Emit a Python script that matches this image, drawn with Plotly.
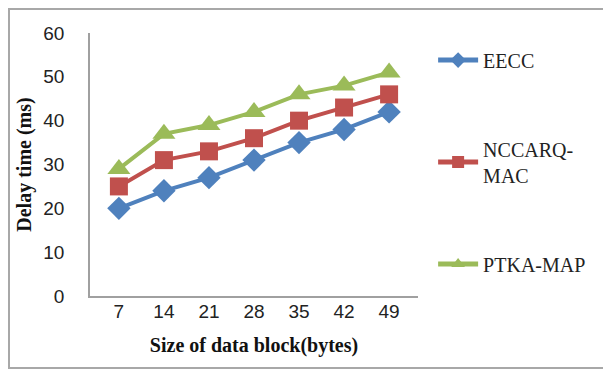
import plotly.graph_objects as go

categories = ["7", "14", "21", "28", "35", "42", "49"]
eecc = [20, 24, 27, 31, 35, 38, 42]
nccarq = [25, 31, 33, 36, 40, 43, 46]
ptka = [29, 37, 39, 42, 46, 48, 51]
series_names = ["EECC", "NCCARQ-<br>MAC", "PTKA-MAP"]
y_ticks = [0, 10, 20, 30, 40, 50, 60]

fig = go.Figure()
specs = [
    (eecc, series_names[0], "#4F81BD", "diamond", 18),
    (nccarq, series_names[1], "#C0504D", "square", 18),
    (ptka, series_names[2], "#9BBB59", "triangle-up", 20),
]
for i, (vals, name, color, sym, size) in enumerate(specs):
    fig.add_trace(go.Scatter(
        x=categories, y=vals, name=name, mode="lines+markers",
        line=dict(color=color, width=4),
        marker=dict(symbol=sym, size=size, color=color),
        legendgroup="g%d" % i,
    ))

# page body adds an 8px offset; figure is sized/positioned to compensate
W, H = 603, 362
L, T, R, B = 82, 25, 410, 288
fig.update_layout(
    width=W, height=H,
    margin=dict(l=L, r=W - R, t=T, b=H - B, autoexpand=False),
    paper_bgcolor="white", plot_bgcolor="white",
    showlegend=True,
    legend=dict(
        xref="container", yref="container",
        x=0.705, y=0.91, xanchor="left", yanchor="top",
        font=dict(family="Liberation Serif", size=20, color="#222"),
        tracegroupgap=60, itemwidth=40, maxheight=600,
        itemsizing="constant",
        bgcolor="rgba(0,0,0,0)",
    ),
    xaxis=dict(
        type="category", showline=True, linecolor="#A0A0A0", linewidth=1.5,
        showgrid=False, ticks="", ticklabelstandoff=-3,
        tickfont=dict(family="Liberation Sans", size=19, color="#222"),
        title=dict(text="<b>Size of data block(bytes)</b>", standoff=17,
                   font=dict(family="Liberation Serif", size=20, color="#111")),
    ),
    yaxis=dict(
        range=[0, 60], tickvals=y_ticks, showline=True, linecolor="#A0A0A0",
        linewidth=1.5, showgrid=False, ticks="", ticklabelstandoff=20,
        zeroline=False,
        tickfont=dict(family="Liberation Sans", size=19, color="#222"),
        title=dict(text="<b>Delay time (ms)</b>", standoff=6,
                   font=dict(family="Liberation Serif", size=20, color="#111")),
    ),
    shapes=[dict(type="rect", xref="paper", yref="paper",
                 x0=(1 - L) / (R - L), x1=(W + 20 - L) / (R - L),
                 y0=-(360 - B) / (B - T), y1=(B - 1) / (B - T),
                 line=dict(color="#A8A8A8", width=2), fillcolor="rgba(0,0,0,0)")],
)
fig.write_html("out.html")
